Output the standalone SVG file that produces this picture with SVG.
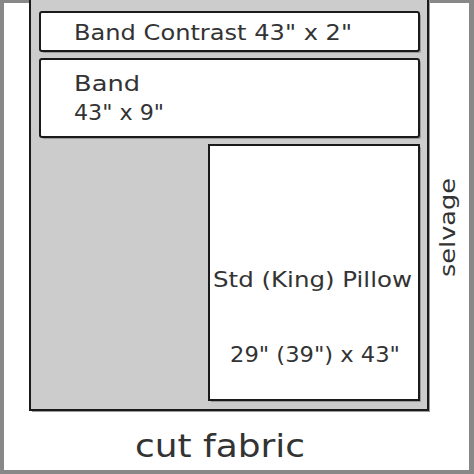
<svg xmlns="http://www.w3.org/2000/svg" width="474" height="474" viewBox="0 0 474 474">
  <defs>
    <style>
      .box { fill: #ffffff; stroke: #1a1a1a; stroke-width: 2; }
      .shadow { fill: #9a9a9a; }
      .lbl { font-family: "DejaVu Sans", "Liberation Sans", sans-serif; fill: #333333; }
    </style>
  </defs>
  <rect x="0" y="0" width="474" height="474" fill="#888888"/>
  <rect x="4" y="3" width="465" height="467" fill="#ffffff"/>

  <g id="fabric">
    <rect x="32" y="-2" width="398" height="414" class="shadow"/>
    <rect x="30" y="-4" width="398" height="414" fill="#cccccc" stroke="#1a1a1a" stroke-width="2"/>
  </g>

  <g id="band-contrast">
    <rect x="42" y="14" width="379" height="39" rx="2" class="shadow"/>
    <rect x="40" y="12" width="379" height="39" rx="2" class="box"/>
    <text x="74" y="40" class="lbl" font-size="21" textLength="278" lengthAdjust="spacingAndGlyphs">Band Contrast 43" x 2"</text>
  </g>

  <g id="band">
    <rect x="42" y="61" width="379" height="78" rx="2" class="shadow"/>
    <rect x="40" y="59" width="379" height="78" rx="2" class="box"/>
    <text x="74" y="91" class="lbl" font-size="21" textLength="66" lengthAdjust="spacingAndGlyphs">Band</text>
    <text x="74" y="120" class="lbl" font-size="21" textLength="90" lengthAdjust="spacingAndGlyphs">43" x 9"</text>
  </g>

  <g id="pillow">
    <rect x="211" y="147" width="210" height="255" class="shadow"/>
    <rect x="209" y="145" width="210" height="255" class="box"/>
    <text x="213" y="287" class="lbl" font-size="21" textLength="199" lengthAdjust="spacingAndGlyphs">Std (King) Pillow</text>
    <text x="230" y="362" class="lbl" font-size="21" textLength="170" lengthAdjust="spacingAndGlyphs">29" (39") x 43"</text>
  </g>

  <g id="selvage">
    <text transform="translate(455,277) rotate(-90)" class="lbl" font-size="21" textLength="99" lengthAdjust="spacingAndGlyphs">selvage</text>
  </g>

  <g id="cut-fabric">
    <text x="135" y="457" class="lbl" font-size="32" textLength="170" lengthAdjust="spacingAndGlyphs">cut fabric</text>
  </g>

  <g id="connectors"/>
</svg>
